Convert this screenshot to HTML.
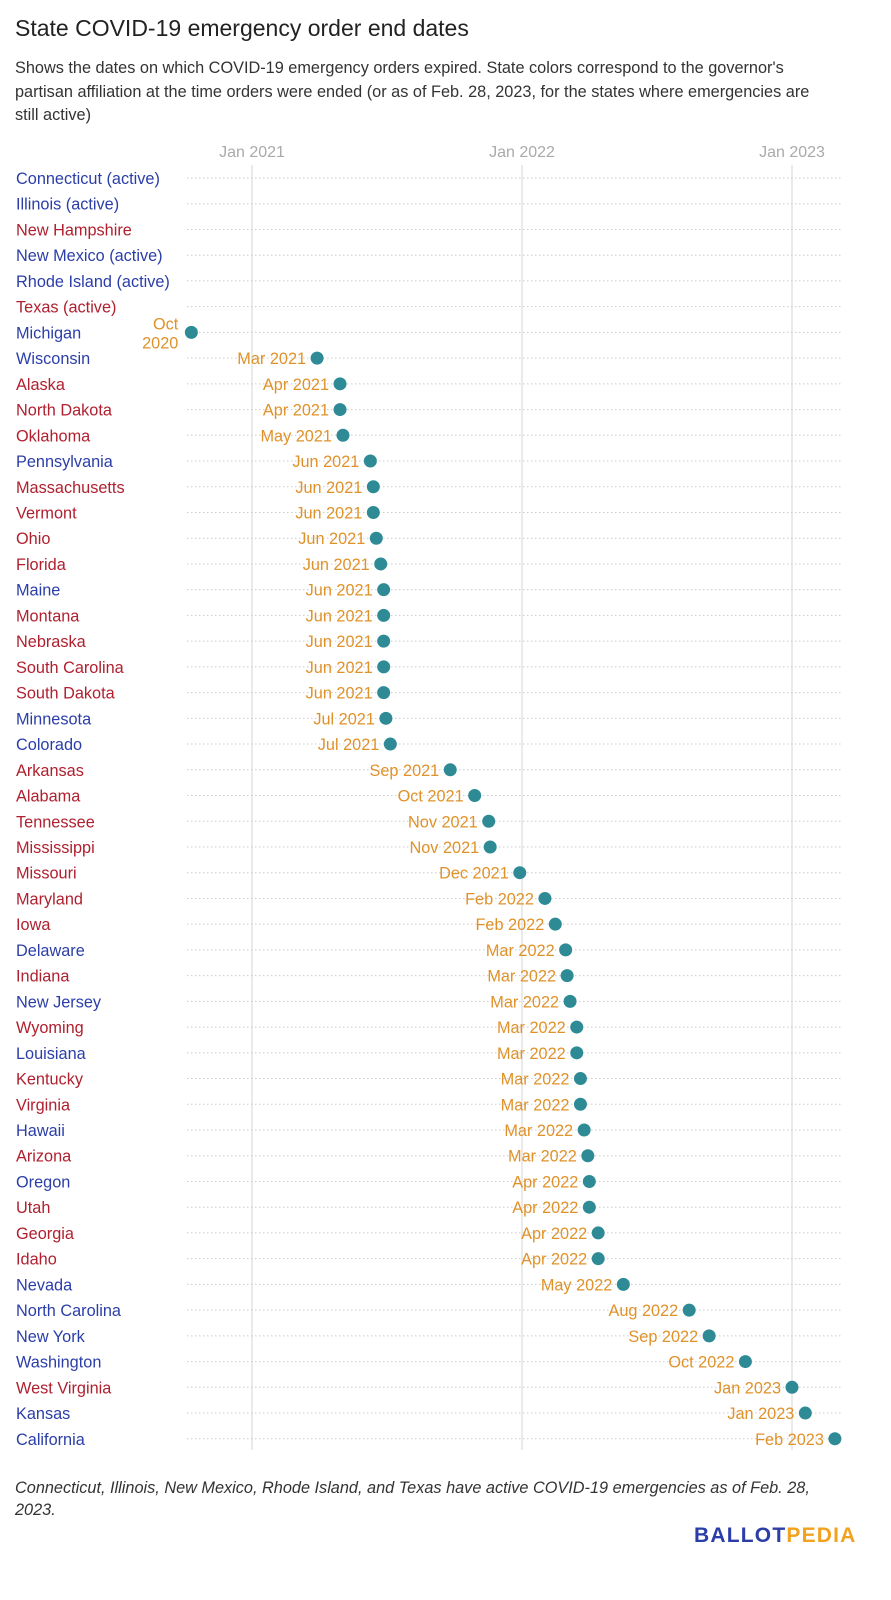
<!DOCTYPE html>
<html><head><meta charset="utf-8"><style>
body{margin:0;background:#fff;font-family:"Liberation Sans",sans-serif;}
#wrap{position:relative;width:891px;height:1600px;overflow:hidden;}
.t{position:absolute;left:15px;}
</style></head><body>
<div id="wrap">
<div class="t" style="top:15px;font-size:23px;color:#222;">State COVID-19 emergency order end dates</div>
<div class="t" style="top:57px;width:815px;font-size:16.3px;line-height:23.5px;color:#333;">Shows the dates on which COVID-19 emergency orders expired. State colors correspond to the governor's partisan affiliation at the time orders were ended (or as of Feb. 28, 2023, for the states where emergencies are still active)</div>
<svg id="chart" width="891" height="1470" style="position:absolute;left:0;top:0;"></svg>
<div class="t" style="top:1477px;width:840px;font-size:16.3px;line-height:22px;font-style:italic;color:#333;">Connecticut, Illinois, New Mexico, Rhode Island, and Texas have active COVID-19 emergencies as of Feb. 28, 2023.</div>
<div style="position:absolute;left:694px;top:1524px;font-size:21px;font-weight:bold;letter-spacing:1.2px;"><span style="color:#2b3ea8">BALLOT</span><span style="color:#f2a21e">PEDIA</span></div>
</div>
<script>
const states=["Connecticut (active)","Illinois (active)","New Hampshire","New Mexico (active)","Rhode Island (active)","Texas (active)","Michigan","Wisconsin","Alaska","North Dakota","Oklahoma","Pennsylvania","Massachusetts","Vermont","Ohio","Florida","Maine","Montana","Nebraska","South Carolina","South Dakota","Minnesota","Colorado","Arkansas","Alabama","Tennessee","Mississippi","Missouri","Maryland","Iowa","Delaware","Indiana","New Jersey","Wyoming","Louisiana","Kentucky","Virginia","Hawaii","Arizona","Oregon","Utah","Georgia","Idaho","Nevada","North Carolina","New York","Washington","West Virginia","Kansas","California"];
const parties=["D","D","R","D","D","R","D","D","R","R","R","D","R","R","R","R","D","R","R","R","R","D","D","R","R","R","R","R","R","R","D","R","D","R","D","R","R","D","R","D","R","R","R","D","D","D","D","R","D","D"];
const endDates=[null,null,null,null,null,null,"2020-10-11","2021-03-30","2021-04-30","2021-04-30","2021-05-04","2021-06-10","2021-06-14","2021-06-14","2021-06-18","2021-06-24","2021-06-28","2021-06-28","2021-06-28","2021-06-28","2021-06-28","2021-07-01","2021-07-07","2021-09-26","2021-10-29","2021-11-17","2021-11-19","2021-12-29","2022-02-01","2022-02-15","2022-03-01","2022-03-03","2022-03-07","2022-03-16","2022-03-16","2022-03-21","2022-03-21","2022-03-26","2022-03-31","2022-04-02","2022-04-02","2022-04-14","2022-04-14","2022-05-18","2022-08-15","2022-09-11","2022-10-30","2023-01-01","2023-01-19","2023-02-28"];
const tickLabels=["Jan 2021","Jan 2022","Jan 2023"];
const tickDates=["2021-01-01","2022-01-01","2023-01-01"];
const months=["Jan","Feb","Mar","Apr","May","Jun","Jul","Aug","Sep","Oct","Nov","Dec"];
const NS="http://www.w3.org/2000/svg";
const svg=document.getElementById("chart");
const t0=Date.UTC(2021,0,1),t1=Date.UTC(2022,0,1);
function xScale(d){const p=d.split("-").map(Number);return 252+(Date.UTC(p[0],p[1]-1,p[2])-t0)/(t1-t0)*270;}
function yScale(i){return 178+i*25.73;}
function mk(tag,attrs){const e=document.createElementNS(NS,tag);for(const k in attrs)e.setAttribute(k,attrs[k]);svg.appendChild(e);return e;}
tickDates.forEach((d,i)=>{
 const x=xScale(d);
 const l=mk("line",{x1:x,x2:x,y1:165,y2:1450,stroke:"#e3e3e3","stroke-width":1.5});
 
 
 const t=mk("text",{x:x,y:157,"text-anchor":"middle","font-size":16,fill:"#aaa"});
 t.textContent=tickLabels[i];
 
 
});
states.forEach((s,i)=>{
 const y=yScale(i);
 const g=mk("line",{x1:187,x2:843,y1:y,y2:y,stroke:"#ccc","stroke-dasharray":"1.5,2.5","stroke-width":1});
 
 
 const t=mk("text",{x:16,y:y+6,"font-size":16.3,fill:parties[i]==="D"?"#2b3ea8":"#b0202f"});
 t.textContent=s;
 
 
 const d=endDates[i];
 if(!d)return;
 const x=xScale(d);
 const p=d.split("-").map(Number);
 const lbl=months[p[1]-1]+" "+p[0];
 if(x<215){
  const a=mk("text",{x:x-13,y:y-3,"text-anchor":"end","font-size":16.3,fill:"#e0922a"});a.textContent=months[p[1]-1];
  
  
  const b=mk("text",{x:x-13,y:y+16,"text-anchor":"end","font-size":16.3,fill:"#e0922a"});b.textContent=String(p[0]);
  
  
 } else {
  const a=mk("text",{x:x-11,y:y+6,"text-anchor":"end","font-size":16.3,fill:"#e0922a"});a.textContent=lbl;
  
  
 }
 const c=mk("circle",{cx:x,cy:y,r:6.5,fill:"#2e8b96"});
 
 
});
</script>
</body></html>
